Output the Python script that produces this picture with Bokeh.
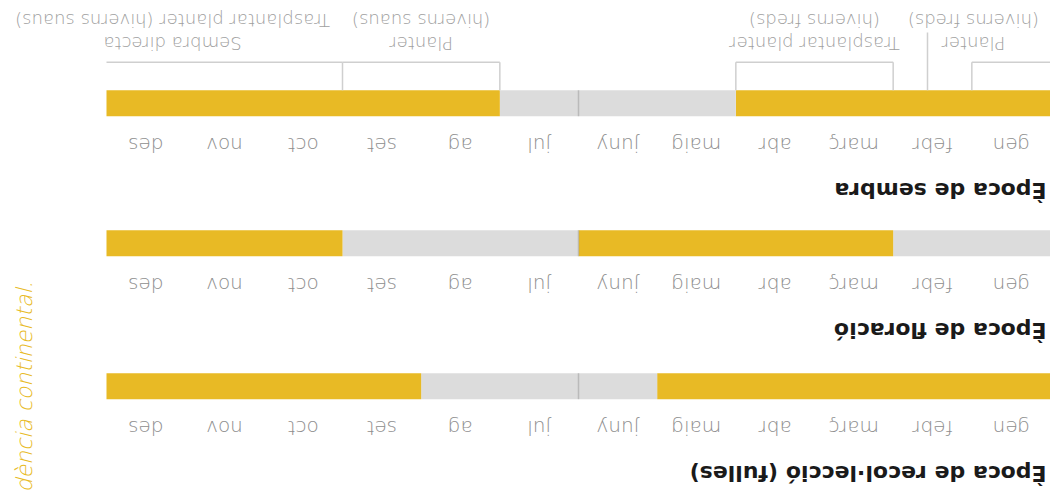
import math
from bokeh.plotting import figure
from bokeh.models import Range1d
from bokeh.core.properties import value
from bokeh.embed import file_html
from bokeh.resources import INLINE

# ---- data ----
months = ["gen", "febr", "març", "abr", "maig", "juny", "jul", "ag", "set", "oct", "nov", "des"]
row_titles = ["Època de recol·lecció (fulles)", "Època de floració", "Època de sembra"]
recollecció = [1, 1, 1, 1, 1, 0, 0, 0, 1, 1, 1, 1]
floració = [0, 0, 1, 1, 1, 1, 0, 0, 0, 1, 1, 1]
sembra = [1, 1, 1, 1, 0, 0, 0, 1, 1, 1, 1, 1]
rows = [recollecció, floració, sembra]

# annotation brackets under the sowing bar
brk_line1 = ["Planter", "Trasplantar planter", "Planter", "Sembra directa"]
brk_line2 = ["(hiverns freds)", "(hiverns freds)", "(hiverns suaus)", "Trasplantar planter (hiverns suaus)"]
brk_start = [0, 2, 7, 9]
brk_end = [1, 4, 9, 12]
brk_label_x = [0.98, 3.0, 8.0, 11.16]

note_text = "dència continental."

# ---- style ----
YELLOW = "#E8BA25"
GREY = "#DCDCDC"
LIGHT = value("DejaVu Sans Light")
BOLD = value("DejaVu Sans")
FLIP = math.pi
W, H = 1050, 491
PX = 944 / 12.0          # pixels per month
bar_tops = [92.3, 235.3, 375.3]
BAR_H = 26


def dy(size):            # empirical baseline correction for flipped text
    return 0.56 * size


p = figure(width=W, height=H, output_backend="svg", toolbar_location=None,
           x_range=Range1d(start=W / PX, end=0),
           y_range=Range1d(start=0, end=H),
           min_border=0, outline_line_color=None)
p.axis.visible = False
p.grid.visible = False

# bars: merge runs of equal state
L, R, B, T, C = [], [], [], [], []
for r, states in enumerate(rows):
    start = 0
    for i in range(1, 13):
        if i == 12 or states[i] != states[start]:
            L.append(start); R.append(i)
            B.append(bar_tops[r]); T.append(bar_tops[r] + BAR_H)
            C.append(YELLOW if states[start] else GREY)
            start = i
p.quad(left=L, right=R, bottom=B, top=T, fill_color=C, line_color=None)

# mid-year divider
p.segment(x0=[6] * 3, x1=[6] * 3, y0=bar_tops, y1=[t + BAR_H for t in bar_tops],
          line_color="#909090", line_alpha=0.45, line_width=1.5)

# month labels
MS = 20
mx, my, mt = [], [], []
for r in range(3):
    for i, m in enumerate(months):
        mx.append(i + 0.5); my.append(bar_tops[r] - 18 - dy(MS)); mt.append(m)
p.text(x=mx, y=my, text=mt, angle=FLIP, text_align="center", text_baseline="alphabetic",
       text_font=LIGHT, text_font_size=f"{MS}px", text_color="#8e8e8e")

# row titles
TS = 22
p.text(x=[0.05] * 3, y=[t - 62 - dy(TS) for t in bar_tops], text=row_titles, angle=FLIP,
       text_align="left", text_baseline="alphabetic", text_font=BOLD,
       text_font_style="bold", text_font_size=f"{TS}px", text_color="#1a1a1a")

# brackets
ybar = bar_tops[2] + BAR_H
yline = 429.3
LC = "#cfcfcf"
p.segment(x0=brk_start, x1=brk_end, y0=[yline] * 4, y1=[yline] * 4, line_color=LC, line_width=1.5)
vx = [1, 2, 4, 7, 9]
p.segment(x0=vx, x1=vx, y0=[ybar] * len(vx), y1=[yline] * len(vx), line_color=LC, line_width=1.5)
p.segment(x0=[123 / PX], x1=[123 / PX], y0=[ybar], y1=[459], line_color=LC, line_width=1.5)

AS = 18
p.text(x=brk_label_x, y=[458 - dy(AS)] * 4, text=brk_line1, angle=FLIP, text_align="center",
       text_baseline="alphabetic", text_font=LIGHT, text_font_size=f"{AS}px", text_color="#a0a0a0")
p.text(x=brk_label_x, y=[481 - dy(AS)] * 4, text=brk_line2, angle=FLIP, text_align="center",
       text_baseline="alphabetic", text_font=LIGHT, text_font_size=f"{AS}px", text_color="#a0a0a0")

# side note (italic, yellow)
p.text(x=[(W - 24) / PX], y=[H - 281], text=[note_text], angle=math.pi / 2,
       text_align="right", text_baseline="alphabetic", text_font=LIGHT,
       text_font_style="italic", text_font_size="22px", text_color=YELLOW)

open("out.html", "w").write(file_html(p, INLINE))
